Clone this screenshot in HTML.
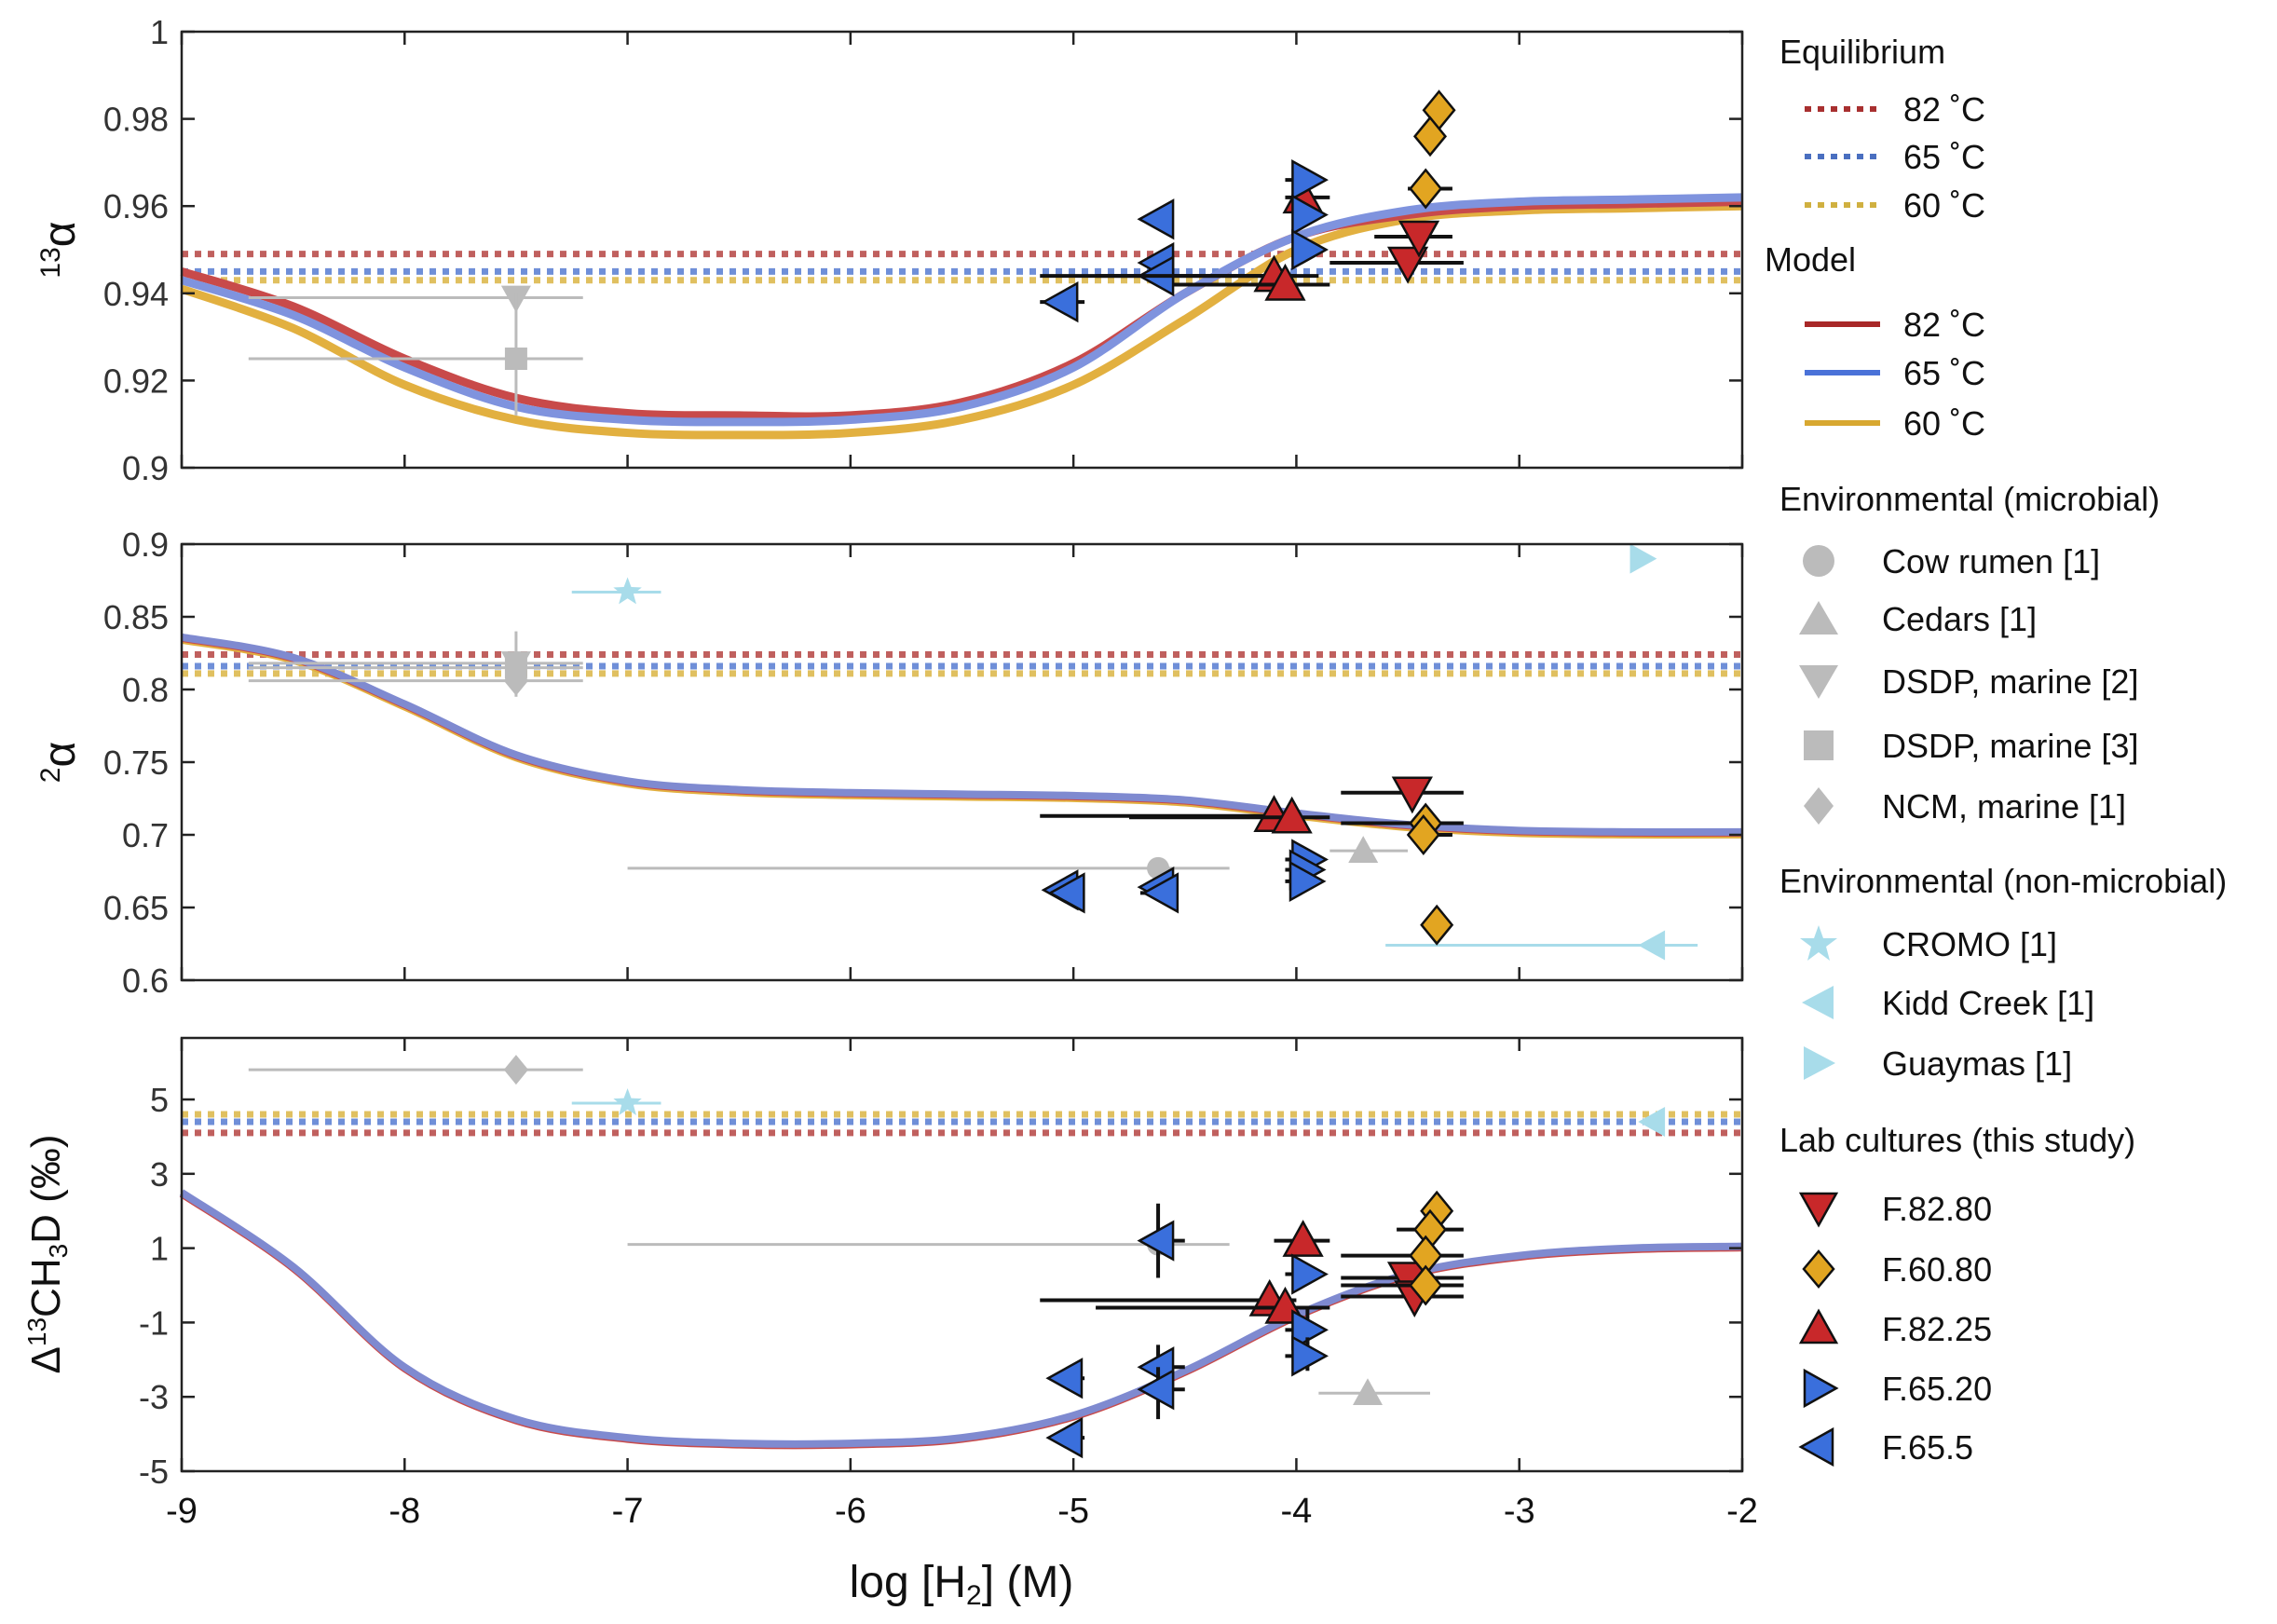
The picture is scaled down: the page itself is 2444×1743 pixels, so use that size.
<!DOCTYPE html>
<html><head><meta charset="utf-8"><style>
html,body{margin:0;padding:0;background:#fff;}
body{position:relative;width:2444px;height:1743px;overflow:hidden}
svg{display:block;font-family:"Liberation Sans",Arial,sans-serif;}
#chart{position:absolute;left:0;top:0}
</style></head><body>
<svg id="chart" width="2444" height="1743" viewBox="0 0 2444 1743" xmlns="http://www.w3.org/2000/svg"></svg>
<script>
// ---------- data ----------
const curveX = [-9,-8.5,-8,-7.5,-7,-6.5,-6,-5.5,-5,-4.5,-4,-3.5,-3,-2.5,-2];
const c13Red  = [0.945,0.937,0.925,0.916,0.9125,0.912,0.912,0.915,0.924,0.940,0.953,0.958,0.960,0.9605,0.961];
const c13Blue = [0.943,0.935,0.923,0.914,0.911,0.9105,0.911,0.914,0.923,0.940,0.953,0.959,0.961,0.9615,0.962];
const c13Yel  = [0.941,0.932,0.919,0.911,0.908,0.9075,0.908,0.911,0.919,0.934,0.950,0.957,0.959,0.9595,0.960];
const c2      = [0.836,0.822,0.790,0.755,0.737,0.731,0.729,0.728,0.727,0.724,0.715,0.707,0.703,0.702,0.702];
const cD      = [2.5,0.5,-2.2,-3.6,-4.1,-4.25,-4.25,-4.1,-3.5,-2.3,-0.8,0.3,0.8,1.0,1.05];
const eq13 = [0.949,0.945,0.943];
const eq2  = [0.824,0.816,0.811];
const eqD  = [4.1,4.4,4.6];
const xTicks = [-9,-8,-7,-6,-5,-4,-3,-2];
const yTicks1 = [1,0.98,0.96,0.94,0.92,0.9];
const yTicks2 = [0.9,0.85,0.8,0.75,0.7,0.65,0.6];
const yTicks3 = [5,3,1,-1,-3,-5];
// points: [panel, marker, color, x, y, xlo, xhi, ylo, yhi]
const pts1 = [
 [1,'tdown','#bbb',-7.5,0.939,-8.7,-7.2,null,null],
 [1,'square','#bbb',-7.5,0.925,-8.7,-7.2,0.912,0.94],
 [1,'left','#3a6fdc',-5.05,0.938,-5.15,-4.95,null,null],
 [1,'left','#3a6fdc',-4.62,0.957,-4.7,-4.55,null,null],
 [1,'left','#3a6fdc',-4.62,0.947,-4.7,-4.55,null,null],
 [1,'left','#3a6fdc',-4.62,0.944,-5.15,-4.0,null,null],
 [1,'tup','#c8282a',-4.1,0.944,-4.9,-3.9,null,null],
 [1,'tup','#c8282a',-4.05,0.942,-4.55,-3.85,null,null],
 [1,'tup','#c8282a',-3.97,0.962,-4.05,-3.85,null,null],
 [1,'right','#3a6fdc',-3.95,0.966,-4.05,-3.9,null,null],
 [1,'right','#3a6fdc',-3.95,0.958,-4.0,-3.9,null,null],
 [1,'right','#3a6fdc',-3.95,0.950,-4.0,-3.9,null,null],
 [1,'tdown','#c8282a',-3.5,0.947,-3.85,-3.25,null,null],
 [1,'tdown','#c8282a',-3.45,0.953,-3.65,-3.3,null,null],
 [1,'diamond','#e2a521',-3.36,0.982,null,null,null,null],
 [1,'diamond','#e2a521',-3.4,0.976,null,null,null,null],
 [1,'diamond','#e2a521',-3.42,0.964,-3.5,-3.3,null,null]
];
const pts2 = [
 [2,'star','#a8dcea',-7.0,0.867,-7.25,-6.85,null,null],
 [2,'right','#a8dcea',-2.45,0.89,null,null,null,null],
 [2,'left','#a8dcea',-2.4,0.624,-3.6,-2.2,null,null],
 [2,'tdown','#bbb',-7.5,0.818,-8.7,-7.2,0.808,0.84],
 [2,'square','#bbb',-7.5,0.815,-8.7,-7.2,null,null],
 [2,'diamond','#bbb',-7.5,0.806,-8.7,-7.2,0.795,0.815],
 [2,'circle','#bbb',-4.62,0.677,-7.0,-4.3,null,null],
 [2,'tup','#bbb',-3.7,0.689,-3.85,-3.5,null,null],
 [2,'left','#3a6fdc',-5.05,0.662,-5.1,-4.95,null,null],
 [2,'left','#3a6fdc',-5.02,0.660,-5.1,-4.95,null,null],
 [2,'left','#3a6fdc',-4.62,0.664,-4.7,-4.55,null,null],
 [2,'left','#3a6fdc',-4.60,0.660,-4.7,-4.55,null,null],
 [2,'tup','#c8282a',-4.1,0.713,-5.15,-4.0,null,null],
 [2,'tup','#c8282a',-4.02,0.712,-4.75,-3.85,null,null],
 [2,'right','#3a6fdc',-3.95,0.683,-4.05,-3.9,null,null],
 [2,'right','#3a6fdc',-3.96,0.676,-4.05,-3.9,null,null],
 [2,'right','#3a6fdc',-3.96,0.668,-4.05,-3.9,null,null],
 [2,'tdown','#c8282a',-3.48,0.729,-3.8,-3.25,null,null],
 [2,'diamond','#e2a521',-3.42,0.708,-3.8,-3.25,null,null],
 [2,'diamond','#e2a521',-3.43,0.700,-3.5,-3.3,null,null],
 [2,'diamond','#e2a521',-3.37,0.638,null,null,null,null]
];
const pts3 = [
 [3,'diamond','#bbb',-7.5,5.8,-8.7,-7.2,null,null],
 [3,'star','#a8dcea',-7.0,4.9,-7.25,-6.85,null,null],
 [3,'left','#a8dcea',-2.4,4.4,null,null,null,null],
 [3,'circle','#bbb',-4.62,1.1,-7.0,-4.3,null,null],
 [3,'tup','#bbb',-3.68,-2.9,-3.9,-3.4,null,null],
 [3,'left','#3a6fdc',-4.62,1.2,-4.7,-4.5,0.2,2.2],
 [3,'left','#3a6fdc',-4.62,-2.2,-4.7,-4.5,-2.8,-1.6],
 [3,'left','#3a6fdc',-4.62,-2.8,-4.7,-4.5,-3.6,-2.2],
 [3,'left','#3a6fdc',-5.03,-2.5,-5.1,-4.95,null,null],
 [3,'left','#3a6fdc',-5.03,-4.1,-5.1,-4.95,null,null],
 [3,'tup','#c8282a',-4.12,-0.4,-5.15,-4.0,null,null],
 [3,'tup','#c8282a',-4.05,-0.6,-4.9,-3.85,null,null],
 [3,'tup','#c8282a',-3.97,1.2,-4.1,-3.85,null,null],
 [3,'right','#3a6fdc',-3.95,0.3,-4.05,-3.9,null,null],
 [3,'right','#3a6fdc',-3.95,-1.2,-4.05,-3.9,-1.7,-0.6],
 [3,'right','#3a6fdc',-3.95,-1.9,-4.05,-3.9,-2.3,-1.4],
 [3,'tdown','#c8282a',-3.5,0.2,-3.8,-3.25,null,null],
 [3,'tdown','#c8282a',-3.47,-0.3,-3.8,-3.25,null,null],
 [3,'diamond','#e2a521',-3.37,2.0,null,null,null,null],
 [3,'diamond','#e2a521',-3.4,1.5,-3.55,-3.25,null,null],
 [3,'diamond','#e2a521',-3.42,0.8,-3.8,-3.25,null,null],
 [3,'diamond','#e2a521',-3.42,0.0,-3.8,-3.25,null,null]
];

// ---------- axes ----------
const L=195, R=1870;
const panels={1:{top:34,bot:502,min:0.9,max:1},2:{top:584,bot:1052,min:0.6,max:0.9},3:{top:1114,bot:1579,min:-5,max:6.655}};
function X(v){return L+(v+9)*(R-L)/7;}
function Y(p,v){const P=panels[p];return P.bot-(v-P.min)*(P.bot-P.top)/(P.max-P.min);}
const NS='http://www.w3.org/2000/svg';
const svg=document.getElementById('chart');
function el(tag,attrs,parent,txt){const e=document.createElementNS(NS,tag);for(const k in attrs)e.setAttribute(k,attrs[k]);if(txt!==undefined)e.textContent=txt;(parent||svg).appendChild(e);return e;}
function smooth(pts){let d='M'+pts[0][0]+','+pts[0][1];for(let i=0;i<pts.length-1;i++){const p0=pts[Math.max(0,i-1)],p1=pts[i],p2=pts[i+1],p3=pts[Math.min(pts.length-1,i+2)];const c1=[p1[0]+(p2[0]-p0[0])/6,p1[1]+(p2[1]-p0[1])/6],c2=[p2[0]-(p3[0]-p1[0])/6,p2[1]-(p3[1]-p1[1])/6];d+=' C'+c1+' '+c2+' '+p2;}return d;}
function marker(g,type,cx,cy,color,s){
 const st={fill:color,stroke:(color==='#bbb'||color==='#a8dcea')?'none':'#111','stroke-width':2.5};
 const h=s/2;
 if(type==='tup')return el('polygon',Object.assign({points:`${cx},${cy-h} ${cx+h},${cy+h*0.8} ${cx-h},${cy+h*0.8}`},st),g);
 if(type==='tdown')return el('polygon',Object.assign({points:`${cx},${cy+h} ${cx+h},${cy-h*0.8} ${cx-h},${cy-h*0.8}`},st),g);
 if(type==='left')return el('polygon',Object.assign({points:`${cx-h},${cy} ${cx+h*0.8},${cy-h} ${cx+h*0.8},${cy+h}`},st),g);
 if(type==='right')return el('polygon',Object.assign({points:`${cx+h},${cy} ${cx-h*0.8},${cy-h} ${cx-h*0.8},${cy+h}`},st),g);
 if(type==='diamond')return el('polygon',Object.assign({points:`${cx},${cy-h} ${cx+h*0.82},${cy} ${cx},${cy+h} ${cx-h*0.82},${cy}`},st),g);
 if(type==='square')return el('rect',Object.assign({x:cx-h*0.75,y:cy-h*0.75,width:h*1.5,height:h*1.5},st),g);
 if(type==='circle')return el('circle',Object.assign({cx:cx,cy:cy,r:h*0.75},st),g);
 if(type==='star'){let p='';for(let i=0;i<10;i++){const r=i%2?h*0.42:h;const a=-Math.PI/2+i*Math.PI/5;p+=(cx+r*Math.cos(a))+','+(cy+r*Math.sin(a))+' ';}return el('polygon',Object.assign({points:p},st),g);}
}
const eqCols=['#c0605e','#6f8fd8','#e0c060'];
[1,2,3].forEach(p=>{
 const P=panels[p];
 const g=el('g',{});
 
 
 const eqv=p===1?eq13:p===2?eq2:eqD;
 const order=p===3?[2,1,0]:[0,1,2];
 order.forEach(i=>{const ln=el('line',{x1:L,x2:R,y1:Y(p,eqv[i]),y2:Y(p,eqv[i]),stroke:eqCols[i],'stroke-width':7,'stroke-dasharray':'7 7'},g);
  
  });
 const sets=p===1?[[c13Yel,'#e2b040'],[c13Red,'#c84a4a'],[c13Blue,'#7f93de']]:p===2?[[c2,'#e2b040',3],[c2,'#c84a4a',1],[c2,'#7f8ad0',0]]:[[cD,'#c84a4a',1.5],[cD,'#7f8ad0',0]];
 sets.forEach((s,k)=>{
  const pts=curveX.map((x,i)=>[X(x),Y(p,s[0][i])+(s[2]||0)]);
  const path=el('path',{d:smooth(pts),fill:'none',stroke:s[1],'stroke-width':p===1?9:8},g);
  
  
 });
 const arr=p===1?pts1:p===2?pts2:pts3;
 arr.forEach(d=>{
  const env=(d[2]==='#bbb'||d[2]==='#a8dcea');
  const col=env?d[2]:'#111';
  const ew=env?3:4;
  if(d[5]!==null){const e=el('line',{x1:X(d[5]),x2:X(d[6]),y1:Y(p,d[4]),y2:Y(p,d[4]),stroke:col,'stroke-width':ew},g);
   
   }
  if(d[7]!==null){const e=el('line',{x1:X(d[3]),x2:X(d[3]),y1:Y(p,d[7]),y2:Y(p,d[8]),stroke:col,'stroke-width':ew},g);
   
   }
  const m=marker(g,d[1],X(d[3]),Y(p,d[4]),d[2],env?32:40);
  
  
 });
 const fr=el('rect',{x:L,y:P.top,width:R-L,height:P.bot-P.top,fill:'none',stroke:'#222','stroke-width':2.5});
 
 
 xTicks.forEach(t=>{el('line',{x1:X(t),x2:X(t),y1:P.bot,y2:P.bot-14,stroke:'#222','stroke-width':2.5});el('line',{x1:X(t),x2:X(t),y1:P.top,y2:P.top+14,stroke:'#222','stroke-width':2.5});});
 const yt=p===1?yTicks1:p===2?yTicks2:yTicks3;
 yt.forEach(t=>{el('line',{x1:L,x2:L+14,y1:Y(p,t),y2:Y(p,t),stroke:'#222','stroke-width':2.5});el('line',{x1:R,x2:R-14,y1:Y(p,t),y2:Y(p,t),stroke:'#222','stroke-width':2.5});
  const tl=el('text',{x:L-14,y:Y(p,t)+13,'text-anchor':'end','font-size':36,fill:'#333'},svg,String(t));
  
  });
});
xTicks.forEach(t=>{const tl=el('text',{x:X(t),y:1634,'text-anchor':'middle','font-size':38,fill:'#111'},svg,String(t));
 
 });
</script>
<svg style="position:absolute;left:0;top:0" width="2444" height="1743">
<g font-family="Liberation Sans, Arial, sans-serif" fill="#111">
<text transform="translate(80,268) rotate(-90)" text-anchor="middle" font-size="48"><tspan font-size="30" dy="-16">13</tspan><tspan dy="16">α</tspan></text>
<text transform="translate(80,818) rotate(-90)" text-anchor="middle" font-size="48"><tspan font-size="30" dy="-16">2</tspan><tspan dy="16">α</tspan></text>
<text transform="translate(64,1346) rotate(-90)" text-anchor="middle" font-size="44">Δ<tspan font-size="28" dy="-15">13</tspan><tspan dy="15">CH</tspan><tspan font-size="28" dy="8">3</tspan><tspan dy="-8">D (‰)</tspan></text>
<text x="1032" y="1714" text-anchor="middle" font-size="48">log [H<tspan font-size="30" dy="8">2</tspan><tspan dy="-8">] (M)</tspan></text>
</g>
<g font-family="Liberation Sans, Arial, sans-serif" font-size="36" fill="#111">
<text x="1910" y="68">Equilibrium</text>
<line x1="1937" x2="2015" y1="117" y2="117" stroke="#a83030" stroke-width="6" stroke-dasharray="7 7"/><text x="2043" y="130">82 ˚C</text>
<line x1="1937" x2="2015" y1="168" y2="168" stroke="#4a6fc0" stroke-width="6" stroke-dasharray="7 7"/><text x="2043" y="181">65 ˚C</text>
<line x1="1937" x2="2015" y1="220" y2="220" stroke="#d0b040" stroke-width="6" stroke-dasharray="7 7"/><text x="2043" y="233">60 ˚C</text>
<text x="1894" y="291">Model</text>
<line x1="1937" x2="2018" y1="348" y2="348" stroke="#a82828" stroke-width="6"/><text x="2043" y="361">82 ˚C</text>
<line x1="1937" x2="2018" y1="400" y2="400" stroke="#4a72d8" stroke-width="6"/><text x="2043" y="413">65 ˚C</text>
<line x1="1937" x2="2018" y1="454" y2="454" stroke="#d8a830" stroke-width="6"/><text x="2043" y="467">60 ˚C</text>
<text x="1910" y="548">Environmental (microbial)</text>
<circle cx="1952" cy="602" r="17" fill="#bbb"/><text x="2020" y="615">Cow rumen [1]</text>
<polygon points="1952,645 1973,681 1931,681" fill="#bbb"/><text x="2020" y="677">Cedars [1]</text>
<polygon points="1952,750 1973,714 1931,714" fill="#bbb"/><text x="2020" y="744">DSDP, marine [2]</text>
<rect x="1936" y="784" width="32" height="32" fill="#bbb"/><text x="2020" y="813">DSDP, marine [3]</text>
<polygon points="1952,845 1968,865 1952,885 1936,865" fill="#bbb"/><text x="2020" y="878">NCM, marine [1]</text>
<text x="1910" y="958">Environmental (non-microbial)</text>
<polygon points="1952,993 1957,1007 1972,1007 1960,1016 1964,1031 1952,1022 1940,1031 1944,1016 1932,1007 1947,1007" fill="#a8dcea"/><text x="2020" y="1026">CROMO [1]</text>
<polygon points="1934,1076 1968,1058 1968,1094" fill="#a8dcea"/><text x="2020" y="1089">Kidd Creek [1]</text>
<polygon points="1970,1141 1936,1123 1936,1159" fill="#a8dcea"/><text x="2020" y="1154">Guaymas [1]</text>
<text x="1910" y="1236">Lab cultures (this study)</text>
<polygon points="1952,1315 1971,1281 1933,1281" fill="#c8282a" stroke="#111" stroke-width="2.5"/><text x="2020" y="1310">F.82.80</text>
<polygon points="1952,1343 1968,1362 1952,1381 1936,1362" fill="#e2a521" stroke="#111" stroke-width="2.5"/><text x="2020" y="1375">F.60.80</text>
<polygon points="1952,1407 1971,1441 1933,1441" fill="#c8282a" stroke="#111" stroke-width="2.5"/><text x="2020" y="1439">F.82.25</text>
<polygon points="1971,1490 1937,1471 1937,1509" fill="#3a6fdc" stroke="#111" stroke-width="2.5"/><text x="2020" y="1503">F.65.20</text>
<polygon points="1933,1553 1967,1534 1967,1572" fill="#3a6fdc" stroke="#111" stroke-width="2.5"/><text x="2020" y="1566">F.65.5</text>
</g>
</svg>
</body></html>
